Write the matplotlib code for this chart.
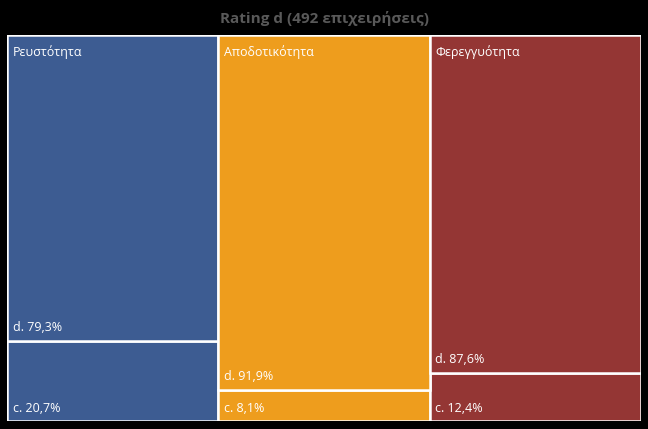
import matplotlib
matplotlib.use("Agg")
import matplotlib.pyplot as plt

# -----------------------------
# Data
# -----------------------------
categories = ["Ρευστότητα", "Αποδοτικότητα", "Φερεγγυότητα"]
d_values = [79.3, 91.9, 87.6]
c_values = [20.7, 8.1, 12.4]
colors = ["#3D5C92", "#EE9D1D", "#943634"]
title = "Rating d (492 επιχειρήσεις)"

plt.rcParams["font.family"] = ["Open Sans", "DejaVu Sans"]


def fmt(v):
    return f"{v:.1f}".replace(".", ",") + "%"


fig = plt.figure(figsize=(6.48, 4.29), dpi=100, facecolor="black")
ax = fig.add_axes([7 / 648, 8 / 429, 634 / 648, 386 / 429])
ax.set_facecolor("black")

x = list(range(len(categories)))

# c at the bottom, d stacked on top
ax.bar(x, c_values, width=1.0, color=colors, edgecolor="white", linewidth=1.8)
ax.bar(x, d_values, width=1.0, bottom=c_values, color=colors,
       edgecolor="white", linewidth=1.8)

ax.set_xlim(-0.5, len(categories) - 0.5)
ax.set_ylim(0, 100)
ax.axis("off")

for i, cat in enumerate(categories):
    left = i - 0.5
    ax.annotate(cat, (left, 100), xytext=(4, -7), textcoords="offset points",
                color="white", fontsize=9, ha="left", va="top")
    ax.annotate("d. " + fmt(d_values[i]), (left, c_values[i]), xytext=(4, 5),
                textcoords="offset points", color="white", fontsize=9,
                ha="left", va="bottom")
    ax.annotate("c. " + fmt(c_values[i]), (left, 0), xytext=(4, 4),
                textcoords="offset points", color="white", fontsize=9,
                ha="left", va="bottom")

fig.text(0.5, 1 - 18 / 429, title, color="#595959", fontsize=11,
         fontweight="bold", ha="center", va="center")

fig.savefig("out.png", dpi=100, facecolor="black")
